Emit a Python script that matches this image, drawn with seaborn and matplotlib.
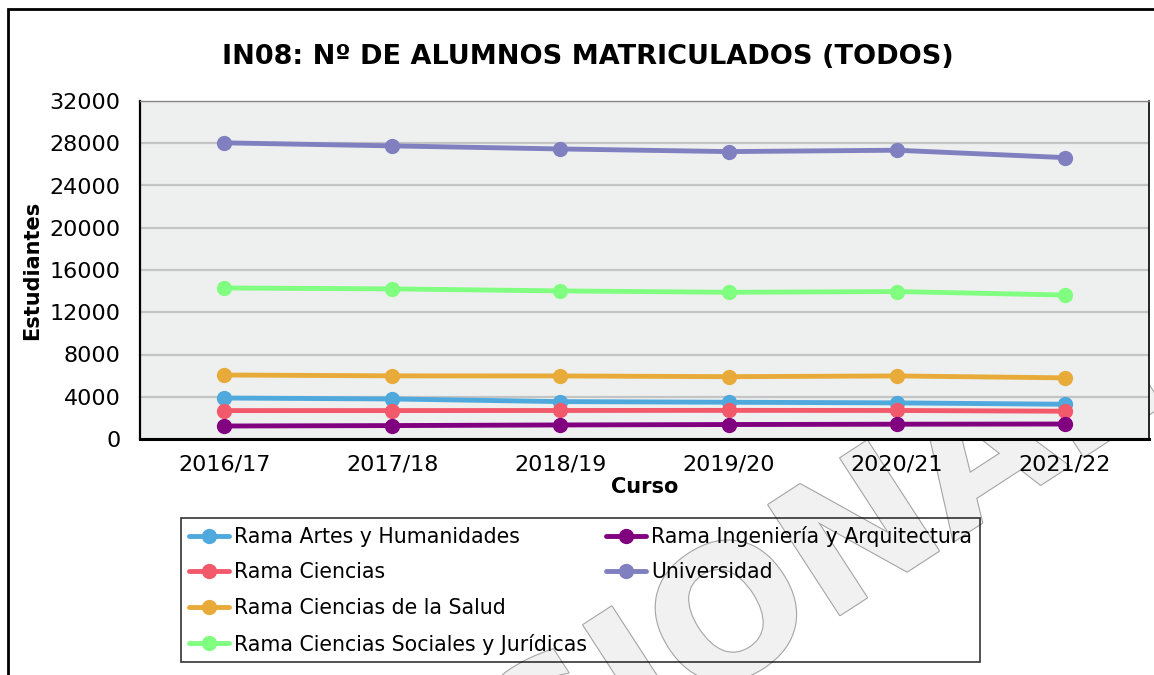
import matplotlib

matplotlib.use("Agg")

import matplotlib.patheffects as pe
import matplotlib.pyplot as plt
import pandas as pd
import seaborn as sns
from matplotlib.lines import Line2D
from matplotlib.patches import Rectangle

# datos
cursos = ["2016/17", "2017/18", "2018/19", "2019/20", "2020/21", "2021/22"]
artes = [3880, 3790, 3540, 3480, 3420, 3290]
ciencias = [2690, 2690, 2700, 2710, 2700, 2630]
salud = [6060, 5980, 5970, 5900, 5970, 5790]
sociales = [14300, 14210, 14020, 13890, 13960, 13630]
ingenieria = [1230, 1270, 1330, 1370, 1400, 1420]
universidad = [28040, 27750, 27460, 27210, 27340, 26640]

series = {
    "Rama Artes y Humanidades": artes,
    "Rama Ciencias": ciencias,
    "Rama Ciencias de la Salud": salud,
    "Rama Ciencias Sociales y Jurídicas": sociales,
    "Rama Ingeniería y Arquitectura": ingenieria,
    "Universidad": universidad,
}
colors = ["#4fa9dd", "#f2596b", "#e8ab39", "#80ff80", "#800080", "#8080c0"]
y_ticks = list(range(0, 32001, 4000))

df = pd.DataFrame(
    [(name, c, v) for name, vals in series.items() for c, v in zip(cursos, vals)],
    columns=["serie", "curso", "valor"],
)

sns.set_style("white")
plt.rcParams["font.family"] = ["DejaVu Sans"]
plt.rcParams["text.color"] = "black"
plt.rcParams["axes.labelcolor"] = "black"

fig = plt.figure(figsize=(11.54, 6.75), dpi=100)
ax = fig.add_axes([140 / 1154, 1 - 439 / 675, 1009 / 1154, 338 / 675])
ax.set_facecolor("#eef0ef")

palette = dict(zip(series.keys(), colors))
sns.lineplot(
    data=df,
    x="curso",
    y="valor",
    hue="serie",
    palette=palette,
    marker="o",
    markersize=11,
    markeredgewidth=0,
    linewidth=3.5,
    sort=False,
    legend=False,
    ax=ax,
)

ax.set_xlim(-0.5, len(cursos) - 0.5)
ax.set_ylim(0, 32000)
ax.set_yticks(y_ticks)
ax.set_yticklabels([str(t) for t in y_ticks])
ax.set_xticks(range(len(cursos)))
ax.set_xticklabels(cursos)
ax.set_xticks([i - 0.5 for i in range(len(cursos) + 1)], minor=True)
ax.tick_params(axis="x", which="major", length=0, labelsize=16, pad=11, labelcolor="black")
ax.tick_params(axis="x", which="minor", length=12, width=1.5, color="#c0c0c0", direction="out")
ax.tick_params(axis="y", which="major", length=10, width=1.5, color="#c0c0c0",
               labelsize=16, pad=4, labelcolor="black")
ax.yaxis.grid(True, color="#c4c4c4", linewidth=1.6)
ax.xaxis.grid(False)

ax.set_xlabel("Curso", fontsize=15, fontweight="bold", labelpad=2)
ax.set_ylabel("Estudiantes", fontsize=15, fontweight="bold", labelpad=5)

for side in ["left", "bottom", "right"]:
    ax.spines[side].set_visible(True)
    ax.spines[side].set_color("black")
ax.spines["left"].set_linewidth(1.6)
ax.spines["bottom"].set_linewidth(2.2)
ax.spines["right"].set_linewidth(1.2)
ax.spines["top"].set_color("#888888")
ax.spines["top"].set_linewidth(1.0)

fig.suptitle(
    "IN08: Nº DE ALUMNOS MATRICULADOS (TODOS)",
    x=0.509,
    y=1 - 57 / 675,
    va="center",
    fontsize=19.5,
    fontweight="bold",
)

# leyenda en dos columnas: 4 + 2
handles = [
    Line2D([0], [0], color=c, linewidth=3.5, marker="o", markersize=11, markeredgewidth=0)
    for c in colors
]
labels = list(series.keys())
blank = Line2D([0], [0], color="none")
leg = fig.legend(
    handles + [blank, blank],
    labels + ["", ""],
    ncol=2,
    loc="upper left",
    bbox_to_anchor=(181 / 1154, 1 - 518 / 675),
    fontsize=14.8,
    frameon=True,
    fancybox=False,
    edgecolor="black",
    facecolor="none",
    handlelength=1.95,
    handletextpad=0.25,
    labelspacing=0.76,
    columnspacing=0.9,
    borderpad=0.38,
    borderaxespad=0,
)
leg.get_frame().set_linewidth(1.2)

# marco de la figura
fig.patches.append(
    Rectangle(
        (8 / 1154, -0.2), 1.2, 1.2 - 9 / 675,
        transform=fig.transFigure, fill=False, edgecolor="black", linewidth=2,
    )
)

# marca de agua (queda detras del area del grafico)
fig.text(
    559 / 1154,
    1 - 738 / 675,
    "PROVISIONAL",
    rotation=33,
    rotation_mode="anchor",
    ha="center",
    va="center",
    fontsize=130,
    fontweight="bold",
    color="#f1f1f1",
    path_effects=[pe.withStroke(linewidth=1.6, foreground="#a4a4a4")],
    zorder=-1,
)

fig.savefig("out.png", dpi=100)
